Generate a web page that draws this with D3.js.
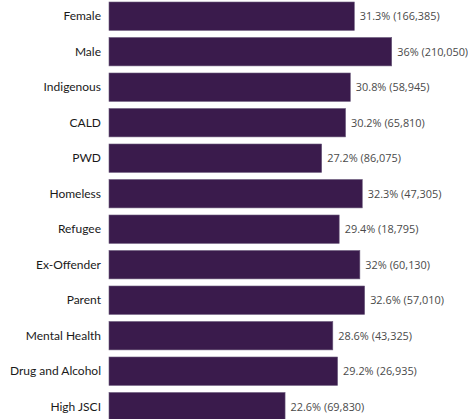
<!DOCTYPE html>
<html>
<head>
<meta charset="utf-8">
<script src="https://cdn.jsdelivr.net/npm/d3@7/dist/d3.min.js"></script>
<style>
  html, body { margin: 0; padding: 0; background: #ffffff; }
  svg { display: block; }
</style>
</head>
<body>
<svg id="chart" width="468" height="419"></svg>
<script>
// Cohort groups and their rates / counts
const categories = ["Female", "Male", "Indigenous", "CALD", "PWD", "Homeless", "Refugee",
  "Ex-Offender", "Parent", "Mental Health", "Drug and Alcohol", "High JSCI"];
const percentValues = [31.3, 36, 30.8, 30.2, 27.2, 32.3, 29.4, 32, 32.6, 28.6, 29.2, 22.6];
const countValues = [166385, 210050, 58945, 65810, 86075, 47305, 18795, 60130, 57010, 43325, 26935, 69830];

const rows = categories.map((c, i) => ({ cat: c, pct: percentValues[i], n: countValues[i] }));

const svg = d3.select("#chart");
const barStart = 109;

const x = d3.scaleLinear().domain([0, 36]).range([105.2, 391.7]);
const y = d3.scaleBand().domain(categories).range([2, 420.9]).paddingInner(0.2).paddingOuter(0);

const fmtCount = d3.format(",");

// bars
svg.append("g").selectAll("rect")
  .data(rows)
  .join("rect")
  .attr("x", barStart)
  .attr("y", d => y(d.cat))
  .attr("width", d => x(d.pct) - barStart)
  .attr("height", y.bandwidth())
  .attr("fill", "#3a1b4c")
  .attr("stroke", "#6b5a7c")
  .attr("stroke-width", 0.6);

// category labels
svg.append("g").selectAll("text")
  .data(rows)
  .join("text")
  .attr("x", barStart - 8)
  .attr("y", d => y(d.cat) + y.bandwidth() / 2)
  .attr("dy", "0.35em")
  .attr("text-anchor", "end")
  .attr("font-family", "Lato, 'Open Sans', sans-serif")
  .attr("font-size", 12)
  .attr("fill", "#1a1a1a")
  .text(d => d.cat);

// value labels
svg.append("g").selectAll("text")
  .data(rows)
  .join("text")
  .attr("x", d => x(d.pct) + 5.5)
  .attr("y", d => y(d.cat) + y.bandwidth() / 2)
  .attr("dy", "0.35em")
  .attr("font-family", "'Open Sans', 'Noto Sans', sans-serif")
  .attr("font-size", 10.9)
  .attr("fill", "#4a4a4a")
  .text(d => `${d.pct}% (${fmtCount(d.n)})`);
</script>
</body>
</html>
